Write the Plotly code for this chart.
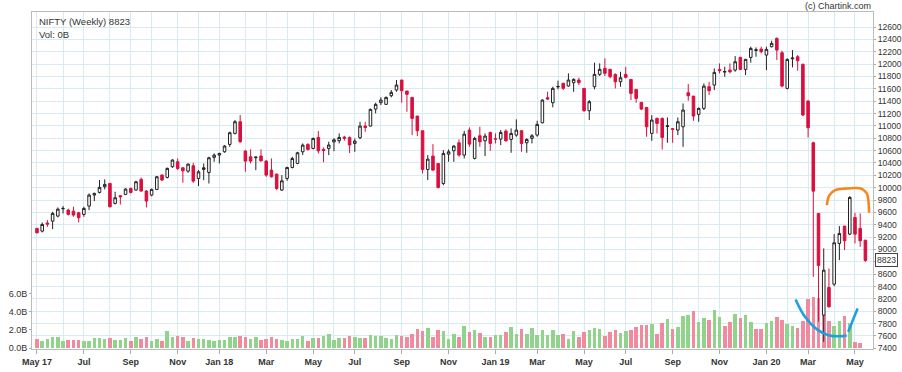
import pandas as pd
import plotly.graph_objects as go

# ---------------- data ----------------
week_start = "2017-05-01"
n_weeks = 160
prior_close = 9304  # close of the week before the first candle

opens = [9340,9297,9428,9459,9540,9660,9637,9620,9594,9567,
         9702,9880,9923,10015,10069,9745,9870,9891,9988,9961,
         10134,9945,9880,9972,10204,10166,10339,10419,10322,10268,
         10354,10149,10295,10246,10490,10527,10581,10700,10878,11067,
         10592,10500,10485,10511,10430,10284,10219,9960,10149,10327,
         10392,10581,10700,10635,10813,10620,10635,10740,10760,10818,
         10810,10716,10808,10997,10997,11272,11375,11348,11488,11580,
         11742,11564,11461,11159,10921,10295,10511,10392,10068,10543,
         10597,10727,10527,10932,10473,10840,10759,10894,10790,10786,
         10916,10781,10851,10921,10727,10797,10851,11051,11456,11375,
         11630,11688,11645,11699,11742,11607,11245,11634,11834,11931,
         11915,11833,11714,11833,11752,11590,11380,11299,10878,11121,
         11121,10990,10955,10932,10986,11536,11482,11186,11283,11634,
         11660,11914,11870,11903,11903,12108,11914,12108,12220,12243,
         12146,12281,12416,12184,11607,12085,12119,11995,11401,10727,
         9583,7937,8385,8438,9097,9378,9248,9518,9340,9151]
highs = [9351,9437,9475,9610,9680,9702,9660,9691,9610,9691,
         9907,9920,10123,10134,10075,9934,9880,9990,10000,10110,
         10166,9961,9985,10190,10215,10325,10460,10473,10330,10392,
         10403,10284,10392,10500,10554,10565,10690,10905,11094,11175,
         10608,10619,10500,10619,10446,10473,10230,10203,10338,10500,
         10580,10716,10720,10810,10916,10650,10743,10800,10878,10840,
         10830,10797,11067,11067,11280,11375,11461,11475,11580,11742,
         11742,11564,11461,11159,10921,10527,10705,10392,10608,10619,
         10689,10781,10921,10975,10824,10986,10878,10905,10878,10932,
         10943,10959,11105,10932,10797,10867,11083,11430,11553,11634,
         11731,11699,11850,11769,11780,11607,11418,12023,12012,12093,
         11915,11849,11876,11957,11752,11590,11390,11299,11174,11136,
         11136,11136,10960,11136,11363,11676,11482,11298,11687,11714,
         11930,12011,11957,12011,12130,12119,12085,12281,12270,12281,
         12281,12378,12432,12216,12092,12227,12146,12011,11417,10743,
         9583,9016,8692,9248,9378,9378,9864,9593,9583,9151]
lows = [9259,9275,9367,9329,9520,9583,9550,9529,9437,9529,
        9637,9783,9907,9972,9680,9729,9729,9880,9905,9950,
        9934,9680,9860,9960,10110,10150,10320,10284,10079,10241,
        10079,10025,10122,10068,10419,10392,10565,10662,10862,10727,
        10257,10392,10284,10419,10176,10165,9960,9950,10111,10311,
        10380,10527,10600,10620,10554,10410,10527,10590,10716,10760,
        10560,10581,10786,10905,10990,11202,11337,11340,11461,11553,
        11375,11229,10851,10835,10230,10122,10273,9987,10041,10419,
        10419,10500,10473,10662,10457,10662,10511,10597,10716,10689,
        10743,10565,10824,10581,10565,10716,10824,11040,11418,11299,
        11591,11580,11634,11553,11661,11229,11094,11591,11807,11807,
        11769,11606,11633,11768,11417,11374,11255,10823,10758,10877,
        10618,10726,10726,10850,10661,11406,11082,11066,11255,11498,
        11579,11849,11795,11849,11876,11903,11822,12022,12119,12173,
        11903,12270,12065,11623,11590,11947,11892,11159,10813,8557,
        7832,7505,8060,8406,8827,8989,9232,9097,9043,8800]
closes = [9270,9405,9410,9583,9653,9664,9567,9556,9513,9664,
          9880,9907,10004,10053,9691,9837,9853,9977,9923,10096,
          9945,9783,9972,10177,10123,10312,10447,10311,10273,10381,
          10106,10257,10322,10484,10527,10554,10673,10889,11067,10743,
          10430,10430,10495,10435,10203,10176,9987,10111,10327,10473,
          10565,10689,10619,10797,10596,10600,10690,10775,10813,10800,
          10690,10754,10997,10975,11267,11348,11418,11461,11542,11661,
          11569,11510,11121,10921,10295,10462,10284,10003,10554,10581,
          10673,10527,10867,10705,10797,10743,10835,10716,10786,10894,
          10759,10878,10932,10716,10781,10840,11024,11418,11434,11607,
          11638,11607,11742,11753,11699,11245,11391,11834,11915,11850,
          11796,11714,11779,11785,11526,11445,11272,10986,11094,11040,
          10813,11000,10945,11067,11256,11488,11159,11283,11644,11569,
          11866,11893,11880,11876,12038,11914,12076,12254,12232,12200,
          12238,12335,12227,11644,12076,12098,12055,11175,10970,9944,
          8741,8665,8072,9108,9259,9140,9842,9248,9140,8823]
volume_b = [0.98,0.84,1.02,1.27,1.27,0.84,0.95,0.95,0.95,0.84,
            0.80,1.13,1.13,1.05,1.13,0.95,0.87,1.13,0.84,1.20,
            1.05,1.27,0.76,1.05,0.76,1.89,1.20,1.35,1.20,0.84,
            1.13,0.98,0.98,0.95,0.84,0.91,0.91,1.27,1.20,1.35,
            1.27,0.98,1.20,0.95,0.98,1.27,1.02,0.91,0.76,1.05,
            1.05,1.35,0.84,1.09,1.16,1.35,1.60,0.91,1.13,1.13,
            1.35,1.27,1.13,1.09,1.42,1.35,1.35,1.09,1.02,1.42,
            1.35,1.27,1.53,2.11,1.89,2.22,1.24,2.00,1.89,0.98,
            1.60,1.20,2.40,1.82,1.96,1.67,1.24,1.24,1.42,1.49,
            1.78,2.33,1.53,2.11,1.60,2.22,1.42,1.96,1.42,1.96,
            1.42,1.53,0.98,1.89,1.27,1.75,1.96,2.18,2.15,1.35,
            1.78,2.04,1.71,1.89,1.96,2.29,2.51,2.58,2.65,1.60,
            2.76,3.24,2.11,2.33,3.53,3.67,4.04,2.84,3.31,3.09,
            4.15,3.45,2.40,2.87,3.78,3.27,3.60,2.91,2.07,2.07,
            2.73,3.02,3.38,3.09,2.65,2.44,2.22,3.02,5.38,5.56,
            5.45,3.64,3.00,2.44,3.02,3.53,2.80,0.73,0.62,0.0]

price_ticks = list(range(7400, 12601, 200))
price_tick_text = [str(v) for v in price_ticks]
vol_ticks = [0, 2, 4, 6]
vol_tick_text = ["0.0B", "2.0B", "4.0B", "6.0B"]
month_abbr = ["Jan", "Feb", "Mar", "Apr", "May", "Jun",
              "Jul", "Aug", "Sep", "Oct", "Nov", "Dec"]

# hand-drawn marks (week offset from first candle, price)
orange_weeks = [151.6, 152.1, 153.2, 155.1, 158.0, 158.9, 159.4, 159.7]
orange_prices = [9718, 9880, 9961, 9985, 9989, 9945, 9880, 9594]
blue_weeks = [145.6, 147.4, 149.7, 151.9, 154.5, 155.4]
blue_prices = [8191, 7910, 7706, 7613, 7597, 7613]
blue2_weeks = [155.7, 156.6, 157.5]
blue2_prices = [7667, 7856, 8046]

# ---------------- derived ----------------
dates = pd.date_range(week_start, periods=n_weeks, freq="W-MON")
start = dates[0]
wk = lambda ws: [start + pd.Timedelta(days=7 * w) for w in ws]

prev = [prior_close] + closes[:-1]
vol_colors = ["#8fd48a" if c >= p else "#f08a9e" for c, p in zip(closes, prev)]

# first candle of every month -> grid / labels
first_of_month = []
seen = set()
for d in dates:
    key = (d.year, d.month)
    if key not in seen:
        seen.add(key)
        first_of_month.append(d)
label_vals, label_txt, minor_vals = [], [], []
for k, d in enumerate(first_of_month):
    if k % 2 == 0:
        label_vals.append(d)
        if k == 0 or d.month == 1:
            label_txt.append(f"{month_abbr[d.month-1]} {str(d.year)[2:]}")
        else:
            label_txt.append(month_abbr[d.month-1])
    else:
        minor_vals.append(d)

FONT = "Liberation Sans, Arial, sans-serif"
GRID = "#d9ebf2"

fig = go.Figure()
fig.add_trace(go.Bar(
    x=dates, y=volume_b, marker=dict(color=vol_colors, line=dict(width=0)),
    width=0.68 * 7 * 86400000, yaxis="y", hoverinfo="skip", showlegend=False))
fig.add_trace(go.Candlestick(
    x=dates, open=opens, high=highs, low=lows, close=closes, yaxis="y2",
    increasing=dict(line=dict(color="#222222", width=1), fillcolor="#ffffff"),
    decreasing=dict(line=dict(color="#d8103f", width=1), fillcolor="#d8103f"),
    whiskerwidth=0, showlegend=False))
fig.add_trace(go.Scatter(
    x=wk(orange_weeks), y=orange_prices, yaxis="y2", mode="lines",
    line=dict(color="#f7861e", width=2.6, shape="spline"),
    hoverinfo="skip", showlegend=False))
fig.add_trace(go.Scatter(
    x=wk(blue_weeks), y=blue_prices, yaxis="y2", mode="lines",
    line=dict(color="#1ba1e2", width=2.6, shape="spline"),
    hoverinfo="skip", showlegend=False))
fig.add_trace(go.Scatter(
    x=wk(blue2_weeks), y=blue2_prices, yaxis="y2", mode="lines",
    line=dict(color="#1ba1e2", width=2.6, shape="spline"),
    hoverinfo="skip", showlegend=False))

fig.update_layout(
    width=902, height=372,
    margin=dict(l=32, r=29, t=12, b=23, autoexpand=False),
    paper_bgcolor="white", plot_bgcolor="white",
    font=dict(family=FONT, size=9, color="#333333"),
    bargap=0, boxgap=0.3, hovermode=False,
    xaxis=dict(
        type="date", automargin=False,
        range=[start - pd.Timedelta(days=6.7), dates[-1] + pd.Timedelta(days=10.2)],
        tickmode="array", tickvals=label_vals, ticktext=label_txt,
        tickfont=dict(family=FONT, size=9, color="#333333", weight="bold"),
        showgrid=True, gridcolor=GRID, gridwidth=1,
        minor=dict(tickmode="array", tickvals=minor_vals, showgrid=True,
                   gridcolor=GRID, gridwidth=1, ticks=""),
        ticks="outside", ticklen=4, tickcolor="#aaaaaa",
        showline=True, linecolor="#bbbbbb", mirror=True,
        rangeslider=dict(visible=False), zeroline=False, fixedrange=True),
    yaxis=dict(
        side="left", range=[-0.08, 36.75], automargin=False,
        tickmode="array", tickvals=vol_ticks, ticktext=vol_tick_text,
        tickfont=dict(family=FONT, size=9, color="#333333"),
        showgrid=False, zeroline=False,
        ticks="outside", ticklen=2, tickcolor="#aaaaaa",
        showline=True, linecolor="#bbbbbb"),
    yaxis2=dict(
        overlaying="y", side="right", range=[7389, 12843], automargin=False,
        tickmode="array", tickvals=price_ticks, ticktext=price_tick_text,
        tickfont=dict(family=FONT, size=8.6, color="#333333"),
        showgrid=True, gridcolor=GRID, gridwidth=1, zeroline=False,
        ticks="outside", ticklen=2, tickcolor="#aaaaaa",
        showline=True, linecolor="#bbbbbb"),
    annotations=[
        dict(text="NIFTY (Weekly) 8823", xref="paper", yref="paper", x=0, y=1,
             xanchor="left", yanchor="top", xshift=5, yshift=-2, showarrow=False,
             font=dict(family=FONT, size=9.5, color="#333333")),
        dict(text="Vol: 0B", xref="paper", yref="paper", x=0, y=1,
             xanchor="left", yanchor="top", xshift=5, yshift=-15, showarrow=False,
             font=dict(family=FONT, size=9.5, color="#333333")),
        dict(text="(c) Chartink.com", xref="paper", yref="paper", x=1, y=1,
             xanchor="right", yanchor="bottom", yshift=-1, showarrow=False,
             font=dict(family=FONT, size=9, color="#333333")),
        dict(text=str(closes[-1]), xref="paper", yref="y2", x=1, y=closes[-1],
             xanchor="left", yanchor="middle", xshift=2, showarrow=False,
             bgcolor="white", bordercolor="#444444", borderwidth=1, borderpad=1,
             font=dict(family=FONT, size=8.6, color="#333333")),
    ],
)

fig.write_html("out.html", config={"displayModeBar": False},
               post_script="document.body.style.margin='0';")
